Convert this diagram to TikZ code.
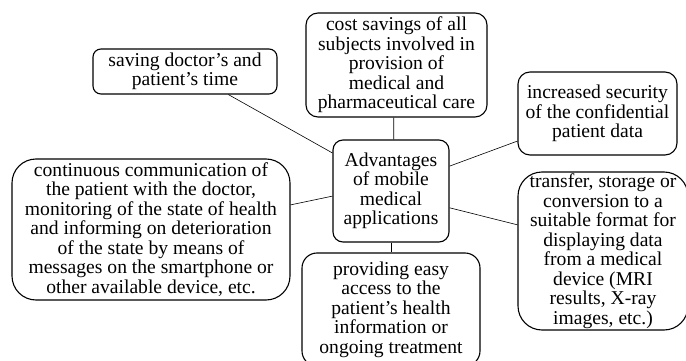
\documentclass[tikz,border=0pt]{standalone}
\usepackage{fontspec}
\setmainfont{Liberation Serif}
\begin{document}
\begin{tikzpicture}[x=1pt,y=-1pt,
  box/.style={draw, line width=1.1pt, align=center, inner sep=0pt,
    font=\fontsize{19.6}{19.5}\selectfont, rounded corners=#1},
  box/.default=10pt,
  link/.style={line width=0.6pt}]
\useasboundingbox (0,0) rectangle (686,361);
\node[box=10pt, minimum width=116pt, minimum height=102pt] (c) at (391,191)
  {Advantages\\of mobile\\medical\\applications};
\node[box=8pt, minimum width=184pt, minimum height=45pt] (tl) at (185,71.5)
  {saving doctor's and\\patient's time};
\node[box=12pt, minimum width=181pt, minimum height=104pt] (top) at (396.5,65)
  {cost savings of all\\subjects involved in\\provision of\\medical and\\pharmaceutical care};
\node[box=12pt, minimum width=159pt, minimum height=83pt] (rt) at (597.5,113.5)
  {increased security\\of the confidential\\patient data};
\node[box=24pt, minimum width=170pt, minimum height=158pt] (rb) at (603,251)
  {transfer, storage or\\conversion to a\\suitable format for\\displaying data\\from a medical\\device (MRI\\results, X-ray\\images, etc.)};
\node[box=24pt, minimum width=278pt, minimum height=141pt] (lf) at (151,229.5)
  {continuous communication of\\the patient with the doctor,\\monitoring of the state of health\\and informing on deterioration\\of the state by means of\\messages on the smartphone or\\other available device, etc.};
\node[box=15pt, minimum width=178pt, minimum height=113pt] (bt) at (391,309.5)
  {providing easy\\access to the\\patient's health\\information or\\ongoing treatment};
\draw[link] (c.147.5) -- (tl.332);
\draw[link] (c.87) -- (top.267);
\draw[link] (c.23.3) -- (rt.199.7);
\draw[link] (c.344.6) -- (rb.163);
\draw[link] (c.185.9) -- (lf.10.4);
\draw[link] (c.south) -- (bt.north);
\end{tikzpicture}
\end{document}
